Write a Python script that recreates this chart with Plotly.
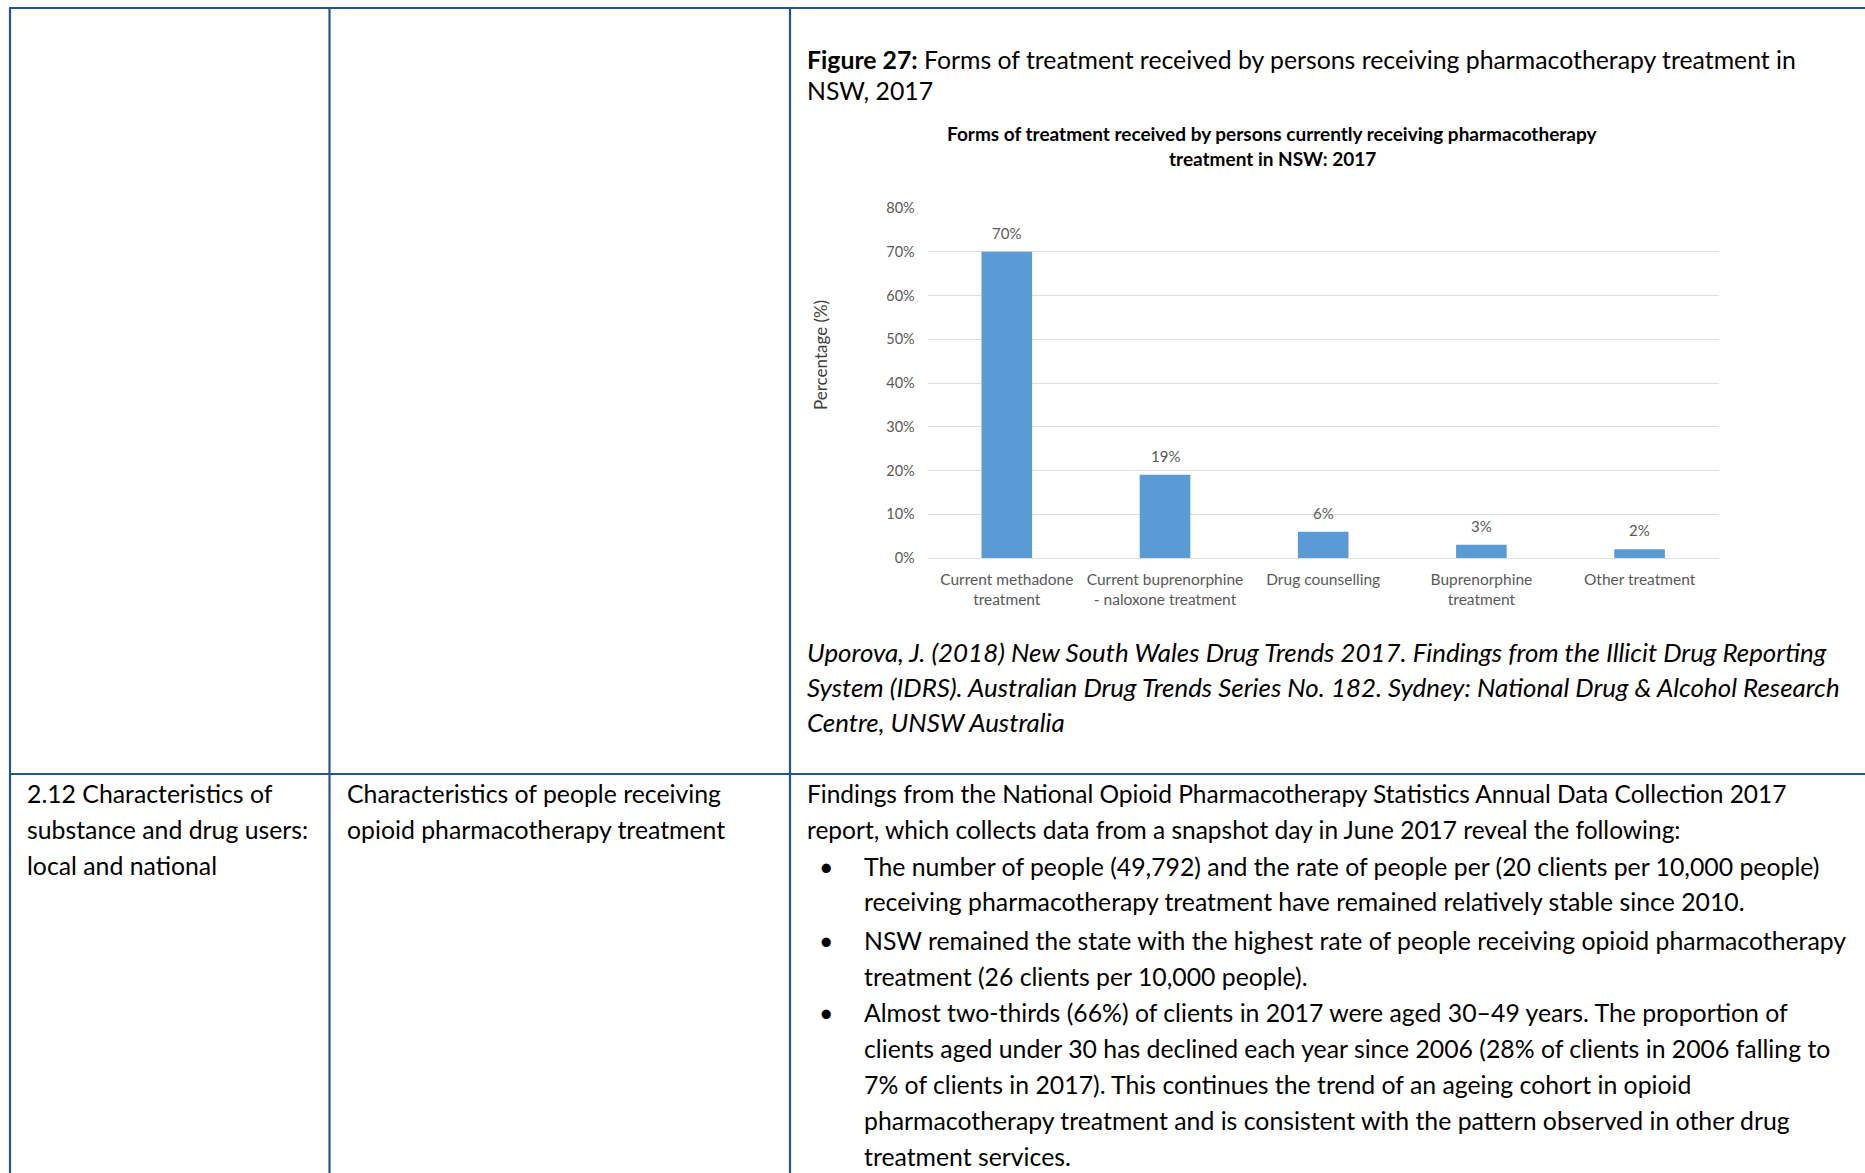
import plotly.graph_objects as go

W, H = 1865, 1173

# ---- chart data ----
categories = [
    "Current methadone treatment",
    "Current buprenorphine - naloxone treatment",
    "Drug counselling",
    "Buprenorphine treatment",
    "Other treatment",
]
tick_labels = [
    "Current methadone<br>treatment",
    "Current buprenorphine<br>- naloxone treatment",
    "Drug counselling",
    "Buprenorphine<br>treatment",
    "Other treatment",
]
percentages = [70, 19, 6, 3, 2]
y_tick_values = [0, 10, 20, 30, 40, 50, 60, 70, 80]
y_tick_labels = [f"{v}%" for v in y_tick_values]

# ---- document text ----
caption_lines = [
    "<b>Figure 27:</b> Forms of treatment received by persons receiving pharmacotherapy treatment in",
    "NSW, 2017",
]
chart_title_lines = [
    "Forms of treatment received by persons currently receiving pharmacotherapy",
    "treatment in NSW: 2017",
]
citation_lines = [
    "Uporova, J. (2018) New South Wales Drug Trends 2017. Findings from the Illicit Drug Reporting",
    "System (IDRS). Australian Drug Trends Series No. 182. Sydney: National Drug &amp; Alcohol Research",
    "Centre, UNSW Australia",
]
col1_lines = ["2.12 Characteristics of", "substance and drug users:", "local and national"]
col2_lines = ["Characteristics of people receiving", "opioid pharmacotherapy treatment"]
intro_lines = [
    "Findings from the National Opioid Pharmacotherapy Statistics Annual Data Collection 2017",
    "report, which collects data from a snapshot day in June 2017 reveal the following:",
]
bullet_items = [
    [
        "The number of people (49,792) and the rate of people per (20 clients per 10,000 people)",
        "receiving pharmacotherapy treatment have remained relatively stable since 2010.",
    ],
    [
        "NSW remained the state with the highest rate of people receiving opioid pharmacotherapy",
        "treatment (26 clients per 10,000 people).",
    ],
    [
        "Almost two-thirds (66%) of clients in 2017 were aged 30\u201349 years. The proportion of",
        "clients aged under 30 has declined each year since 2006 (28% of clients in 2006 falling to",
        "7% of clients in 2017). This continues the trend of an ageing cohort in opioid",
        "pharmacotherapy treatment and is consistent with the pattern observed in other drug",
        "treatment services.",
    ],
]

FONT = "Lato"
BODY = 24.8
TABLE_BLUE = "#25548E"
BAR_BLUE = "#5B9BD5"
GREY = "#595959"


def px(x):
    return x / W


def py(y):
    return 1 - y / H


annotations = []


def add_line(text, x, y, size=BODY, color="#000000", family=FONT, anchor="left"):
    annotations.append(dict(
        text=text, xref="paper", yref="paper", x=px(x), y=py(y),
        xanchor=anchor, yanchor="middle", showarrow=False,
        font=dict(family=family, size=size, color=color),
    ))


# figure caption
for text, y in zip(caption_lines, [59, 91]):
    add_line(text, 805, y)

# chart title
for text, y in zip(chart_title_lines, [133, 158]):
    add_line("<b>" + text + "</b>", 1272, y, size=19, anchor="center")

# y axis title
annotations.append(dict(
    text="Percentage (%)", xref="paper", yref="paper", x=px(820), y=py(355),
    xanchor="center", yanchor="middle", textangle=-90, showarrow=False,
    font=dict(family=FONT, size=17, color="#404040"),
))

# citation
for text, y in zip(citation_lines, [652, 687, 722]):
    add_line("<i>" + text + "</i>", 805, y, size=25.9)

# second table row
row_ys = [793, 829, 865]
for text, y in zip(col1_lines, row_ys):
    add_line(text, 25, y)
for text, y in zip(col2_lines, row_ys):
    add_line(text, 345, y)
for text, y in zip(intro_lines, row_ys):
    add_line(text, 805, y, size=24.5)

bullet_ys = [[866, 902], [940, 976], [1012, 1048, 1084, 1120, 1156]]
for lines, ys in zip(bullet_items, bullet_ys):
    add_line("\u2022", 817, ys[0])
    for text, y in zip(lines, ys):
        add_line(text, 862, y)

# value labels above bars
for cat, val in zip(categories, percentages):
    annotations.append(dict(
        text=f"{val}%", xref="x", yref="y", x=cat, y=val,
        xanchor="center", yanchor="bottom", yshift=8, showarrow=False,
        font=dict(family=FONT, size=15, color=GREY),
    ))

# table rules
shapes = []


def rule(x0, y0, x1, y1):
    shapes.append(dict(
        type="line", xref="paper", yref="paper",
        x0=px(x0), y0=py(y0), x1=px(x1), y1=py(y1),
        line=dict(color=TABLE_BLUE, width=2.2),
    ))


rule(9, 8, W, 8)
rule(9, 774, W, 774)
for xv in [10, 329.5, 790]:
    rule(xv, 8, xv, H)

fig = go.Figure(go.Bar(
    x=categories, y=percentages, width=0.32,
    marker=dict(color=BAR_BLUE, line=dict(width=0)),
    hoverinfo="skip",
))

fig.update_layout(
    width=W, height=H,
    margin=dict(l=0, r=0, t=0, b=0, autoexpand=False),
    paper_bgcolor="white", plot_bgcolor="white",
    showlegend=False,
    annotations=annotations,
    shapes=shapes,
    xaxis=dict(
        domain=[px(927.7), px(1718.7)],
        type="category",
        tickvals=categories, ticktext=tick_labels,
        tickfont=dict(family=FONT, size=15.5, color=GREY),
        showgrid=False, showline=False, ticks="",
        ticklabelstandoff=10, automargin=False,
    ),
    yaxis=dict(
        domain=[py(558), py(208)],
        range=[0, 80],
        tickmode="array", tickvals=y_tick_values, ticktext=y_tick_labels,
        tickfont=dict(family=FONT, size=14.5, color=GREY),
        showgrid=True, gridcolor="#DEDEDE", gridwidth=1.4,
        zeroline=True, zerolinecolor="#DEDEDE", zerolinewidth=1.4,
        showline=False, ticks="",
        ticklabelstandoff=12, automargin=False,
    ),
)

fig.write_html("out.html")
